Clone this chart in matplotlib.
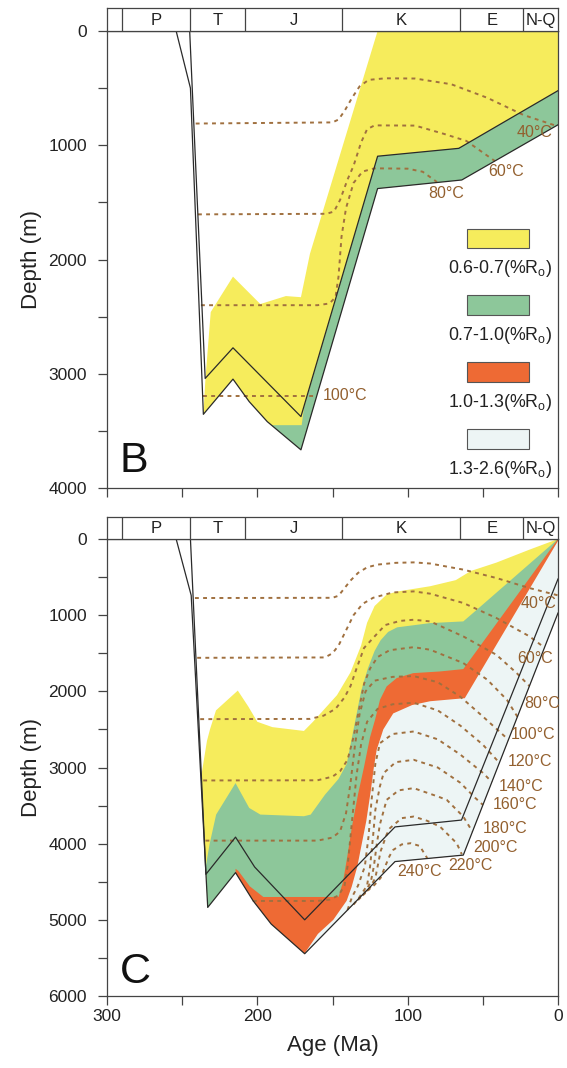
import numpy as np
import matplotlib
matplotlib.use("Agg")
import matplotlib.pyplot as plt
from matplotlib.patches import Rectangle

plt.rcParams["font.family"] = ["Liberation Sans", "DejaVu Sans"]
plt.rcParams["mathtext.fontset"] = "custom"
plt.rcParams["mathtext.rm"] = "Liberation Sans"
plt.rcParams["mathtext.it"] = "Liberation Sans:italic"

# geological time scale (Ma)
PERIOD_EDGES = [300, 290, 245, 208, 144, 65, 23, 0]
PERIOD_NAMES = ["", "P", "T", "J", "K", "E", "N-Q"]

# ---------------- panel B ----------------
# burial curves (age Ma, depth m)
B_UPPER = [(245, 0), (234.7, 3041), (216.2, 2773), (171, 3375), (120, 1096), (66, 1027), (0, 522)]
B_BASE = [(254, 0), (244.5, 500), (235.9, 3355), (216.2, 3047), (205.4, 3244), (193.4, 3419),
          (171, 3666), (120, 1379), (64, 1304), (0, 821)]
# maturity zone boundaries
B_YELLOW_TOP = [(231, 2460), (216.2, 2150), (198, 2390), (181, 2320), (171, 2330),
                (165, 1950), (120, 0), (0, 0)]
B_YELLOW_LEFT = [(235.9, 3355), (234.5, 3040)]
B_GREEN_TOP = [(191, 3450), (170.5, 3450), (169, 3300), (120, 1096), (66, 1027), (0, 522)]
# isotherms
B_ISO_TEMPS = [40, 60, 80, 100]
B_ISO_LINES = [
    [(241, 810), (150, 800), (146, 775), (142, 700), (137, 585), (132, 485), (126, 428),
     (115, 414), (95, 416), (71, 466), (47, 585), (23, 735), (0, 835)],
    [(239.5, 1605), (154, 1600), (149, 1580), (145, 1480), (140, 1300), (136, 1180),
     (131, 976), (127, 860), (122, 826), (95, 828), (76, 900), (61, 962), (42, 1138)],
    [(237.5, 2400), (160, 2400), (152, 2385), (148, 2330), (146, 2150), (144, 1800),
     (141, 1550), (136, 1330), (130, 1230), (122, 1202), (100, 1205), (90, 1232), (80.5, 1322)],
    [(236, 3195), (160.5, 3195)],
]
B_ISO_LABELS = [(15.6, 887), (34.8, 1230), (74.5, 1424), (141.7, 3192)]

# ---------------- panel C ----------------
C_UPPER = [(244.5, 0), (234.2, 4402), (214.5, 3914), (201.8, 4306), (168.5, 5000),
           (108.4, 3780), (64.2, 3690), (0, 525)]
C_BASE = [(254, 0), (244, 740), (233, 4837), (214.5, 4380), (202.8, 4750), (190.8, 5055),
          (168.5, 5445), (108.4, 4235), (63, 4150), (0, 972)]
C_YELLOW_TOP = [(237.2, 3100), (233.5, 2650), (231.5, 2500), (227.5, 2250), (213, 1990),
                (206, 2200), (200, 2400), (190, 2470), (169, 2520), (163, 2400), (147, 2050),
                (138, 1750), (131, 1400), (127, 1100), (122, 880), (114, 730), (107, 690),
                (85, 620), (68, 540), (58, 420), (41, 310), (19, 140), (0, 0)]
C_GREEN_TOP = [(234.3, 4300), (231.8, 4010), (227.4, 3618), (214.5, 3205), (205.4, 3531),
               (198, 3618), (169, 3640), (164.5, 3618), (155, 3357), (146, 3150),
               (140.5, 2950), (136, 2500), (131, 2000), (126.5, 1700), (122, 1470),
               (118, 1330), (113, 1220), (107, 1160), (85, 1104), (63, 1082), (54, 929), (0, 0)]
C_ORANGE_TOP = [(214.5, 4330), (212.6, 4358), (205, 4560), (196, 4700), (146, 4700),
                (143, 4500), (140, 4150), (137, 3770), (133, 3350), (129, 2990), (125, 2600),
                (121.7, 2374), (118.4, 2111), (114, 1936), (107.3, 1826), (96.3, 1761),
                (78.5, 1739), (63, 1708), (0, 0)]
C_PALE_TOP = [(168.5, 5440), (159.7, 5185), (149.5, 5001), (140.6, 4750), (137.2, 4564),
              (133.5, 4300), (131, 4050), (127.5, 3700), (124.5, 3300), (122.5, 3000),
              (120.6, 2768), (116.2, 2500), (109.6, 2290), (97, 2180), (85, 2130),
              (62, 2090), (0, 25)]
C_ISO_TEMPS = [40, 60, 80, 100, 120, 140, 160, 180, 200, 220, 240]
C_ISO_LINES = [
    [(241.5, 775), (150, 772), (146, 745), (142, 645), (138, 545), (133, 445), (127, 372),
     (120, 336), (108, 313), (96, 307), (85, 322), (63, 402), (41, 512), (19, 644), (0, 740)],
    [(240, 1560), (155, 1555), (150, 1500), (146, 1400), (141, 1200), (136, 1000), (130, 852),
     (123, 772), (110, 702), (96, 688), (85, 718), (63, 840), (41, 1037), (19, 1278), (9, 1426)],
    [(238, 2365), (165, 2362), (156, 2320), (148, 2230), (142, 2080), (138, 1930), (134, 1700),
     (129, 1430), (123, 1300), (115, 1130), (105, 1075), (96, 1060), (85, 1082), (63, 1279),
     (41, 1520), (27.5, 1760), (19, 1930)],
    [(236, 3170), (160, 3168), (150, 3120), (145, 3050), (140, 2900), (136, 2600), (132, 2200),
     (129, 1900), (125, 1700), (120, 1550), (112, 1460), (96, 1420), (85, 1454), (63, 1629),
     (47, 1848), (34, 2111), (27, 2333)],
    [(234.5, 3960), (160, 3960), (150, 3920), (145, 3840), (141, 3600), (138, 3200),
     (135, 2700), (132, 2300), (128, 2000), (122, 1860), (110, 1810), (96, 1800), (80, 1880),
     (65, 2070), (50, 2330), (33, 2635)],
    [(203, 4752), (160, 4752), (152, 4735), (146, 4680), (142, 4550), (140, 4300),
     (138.5, 4000), (136.5, 3600), (134, 3100), (131, 2700), (127, 2400), (120, 2230),
     (110, 2170), (96, 2150), (80, 2250), (65, 2450), (50, 2700), (39, 2938)],
    [(140, 4870), (137, 4700), (133, 4550), (128.5, 4300), (126, 3900), (124, 3425),
     (121.5, 2950), (118.4, 2680), (110, 2560), (96, 2527), (80, 2630), (65, 2830),
     (50, 3070), (44, 3190)],
    [(136, 4800), (132, 4700), (127, 4550), (125, 4300), (123, 3900), (121.5, 3556),
     (118.5, 3250), (116, 3074), (108, 2930), (96, 2899), (80, 3000), (65, 3200),
     (55, 3400), (50, 3490)],
    [(133, 4740), (129, 4660), (124.5, 4500), (122.5, 4300), (120.5, 4000), (118.5, 3750),
     (114, 3425), (106, 3300), (96, 3271), (80, 3380), (74, 3425), (63, 3644), (57, 3840)],
    [(130, 4680), (126, 4610), (121.5, 4450), (120, 4300), (118, 4100), (114, 3880),
     (111.8, 3797), (104, 3665), (96, 3644), (87, 3700), (78.5, 3776), (67.4, 3994), (64, 4140)],
    [(127, 4620), (122, 4540), (118, 4450), (115, 4300), (112, 4160), (109.6, 4082),
     (104, 4010), (98, 3994), (92, 4030), (87, 4190)],
]
C_ISO_LABELS = [(13.1, 841), (15.3, 1563), (10.8, 2155), (16.4, 2571), (18.6, 2921),
                (24.2, 3250), (28.6, 3490), (35.3, 3797), (41.9, 4046), (58.5, 4288),
                (91.8, 4367)]

# legend (vitrinite reflectance classes)
RO_CLASSES = ["0.6-0.7", "0.7-1.0", "1.0-1.3", "1.3-2.6"]

YELLOW = "#F6EC5C"
GREEN = "#8DC79A"
ORANGE = "#EE6A34"
PALE = "#EDF5F5"
ZONE_COLORS = [YELLOW, GREEN, ORANGE, PALE]
ISO_COLOR = "#A0703F"
LABEL_COLOR = "#93602F"
AXIS_COLOR = "#444444"
LINE_COLOR = "#2a2a2a"


def along(curve, a_from, a_to):
    """points of a burial curve between two ages, in travel order"""
    ages = np.array([p[0] for p in curve], float)
    deps = np.array([p[1] for p in curve], float)
    lo, hi = min(a_from, a_to), max(a_from, a_to)
    inner = [(a, d) for a, d in zip(ages, deps) if lo < a < hi]
    if a_from < a_to:
        inner = inner[::-1]
    d0 = np.interp(a_from, ages[::-1], deps[::-1])
    d1 = np.interp(a_to, ages[::-1], deps[::-1])
    return [(a_from, d0)] + inner + [(a_to, d1)]


def fill(ax, pts, color):
    ax.fill([p[0] for p in pts], [p[1] for p in pts], color=color, lw=0, zorder=1)


def line(ax, pts, **kw):
    ax.plot([p[0] for p in pts], [p[1] for p in pts], **kw)


W, H = 567, 1068
fig = plt.figure(figsize=(W / 100, H / 100), dpi=100)


def px_axes(left, top, right, bottom):
    return fig.add_axes([left / W, 1 - bottom / H, (right - left) / W, (bottom - top) / H])


def style_axes(ax, ymax, xlabels):
    ax.set_xlim(300, 0)
    ax.set_ylim(ymax, 0)
    ax.set_xticks([300, 200, 100, 0])
    ax.set_xticks([250, 150, 50], minor=True)
    ax.set_yticks(np.arange(0, ymax + 1, 1000))
    ax.set_yticks(np.arange(500, ymax, 1000), minor=True)
    if not xlabels:
        ax.set_xticklabels([])
    for s in ax.spines.values():
        s.set_color(AXIS_COLOR)
        s.set_linewidth(0.9)
    ax.tick_params(which="both", direction="out", length=6.5, width=0.9, color=AXIS_COLOR,
                   labelsize=12.5, labelcolor="#222222")
    ax.tick_params(axis="y", which="both", pad=8)
    ax.tick_params(axis="x", which="both", pad=3)
    ax.set_ylabel("Depth (m)", fontsize=16, color="#222222")
    ax.yaxis.set_label_coords(-0.145, 0.5)


def period_bar(bar):
    bar.set_xlim(300, 0)
    bar.set_ylim(0, 1)
    bar.set_xticks([])
    bar.set_yticks([])
    for s in bar.spines.values():
        s.set_color(AXIS_COLOR)
        s.set_linewidth(0.9)
    for e in PERIOD_EDGES[1:-1]:
        bar.axvline(e, color=AXIS_COLOR, lw=0.9)
    for a0, a1, name in zip(PERIOD_EDGES[:-1], PERIOD_EDGES[1:], PERIOD_NAMES):
        bar.text((a0 + a1) / 2, 0.47, name, ha="center", va="center", fontsize=12,
                 color="#222222")


def isotherms(ax, lines, temps, labels):
    for pts, t, (la, ld) in zip(lines, temps, labels):
        line(ax, pts, color=ISO_COLOR, lw=1.4, ls=(0, (2, 2.2)), zorder=3)
        ax.text(la, ld, f"{t}°C", ha="center", va="center", fontsize=11.5,
                color=LABEL_COLOR, zorder=5)


# ---------- B ----------
axB = px_axes(107, 31, 558, 488)
barB = px_axes(107, 8, 558, 31)
style_axes(axB, 4000, False)
period_bar(barB)

fill(axB, B_YELLOW_TOP + along(B_BASE, 0, 235.9) + B_YELLOW_LEFT, YELLOW)
fill(axB, B_GREEN_TOP + along(B_BASE, 0, 191), GREEN)
isotherms(axB, B_ISO_LINES, B_ISO_TEMPS, B_ISO_LABELS)
line(axB, B_UPPER, color=LINE_COLOR, lw=0.9, zorder=4)
line(axB, B_BASE, color=LINE_COLOR, lw=0.9, zorder=4)
axB.text(282, 3767, "B", fontsize=31, ha="center", va="center", color="#111111")

# legend boxes
for i, (cls, col) in enumerate(zip(RO_CLASSES, ZONE_COLORS)):
    top = 1730 + 585 * i
    axB.add_patch(Rectangle((19.5, top), 41, 170, facecolor=col, edgecolor="#555555",
                            lw=0.8, zorder=5))
    axB.text(38.5, top + 352, cls + r"(%R$_\mathregular{o}$)", ha="center", va="center",
             fontsize=12.8, color="#222222", zorder=5)

# ---------- C ----------
axC = px_axes(107, 539, 558, 996)
barC = px_axes(107, 517, 558, 539)
style_axes(axC, 6000, True)
period_bar(barC)
axC.set_xlabel("Age (Ma)", fontsize=16, color="#222222")
axC.xaxis.set_label_coords(0.5, -0.085)

fill(axC, C_YELLOW_TOP + along(C_BASE, 0, 233) + [(234.2, 4402)], YELLOW)
fill(axC, C_GREEN_TOP + along(C_BASE, 0, 233), GREEN)
fill(axC, C_ORANGE_TOP + along(C_BASE, 0, 214.5), ORANGE)
fill(axC, C_PALE_TOP + along(C_BASE, 0, 168.5), PALE)
isotherms(axC, C_ISO_LINES, C_ISO_TEMPS, C_ISO_LABELS)
line(axC, C_UPPER, color=LINE_COLOR, lw=0.9, zorder=4)
line(axC, C_BASE, color=LINE_COLOR, lw=0.9, zorder=4)
axC.text(281, 5686, "C", fontsize=31, ha="center", va="center", color="#111111")

fig.savefig("out.png", dpi=100)
